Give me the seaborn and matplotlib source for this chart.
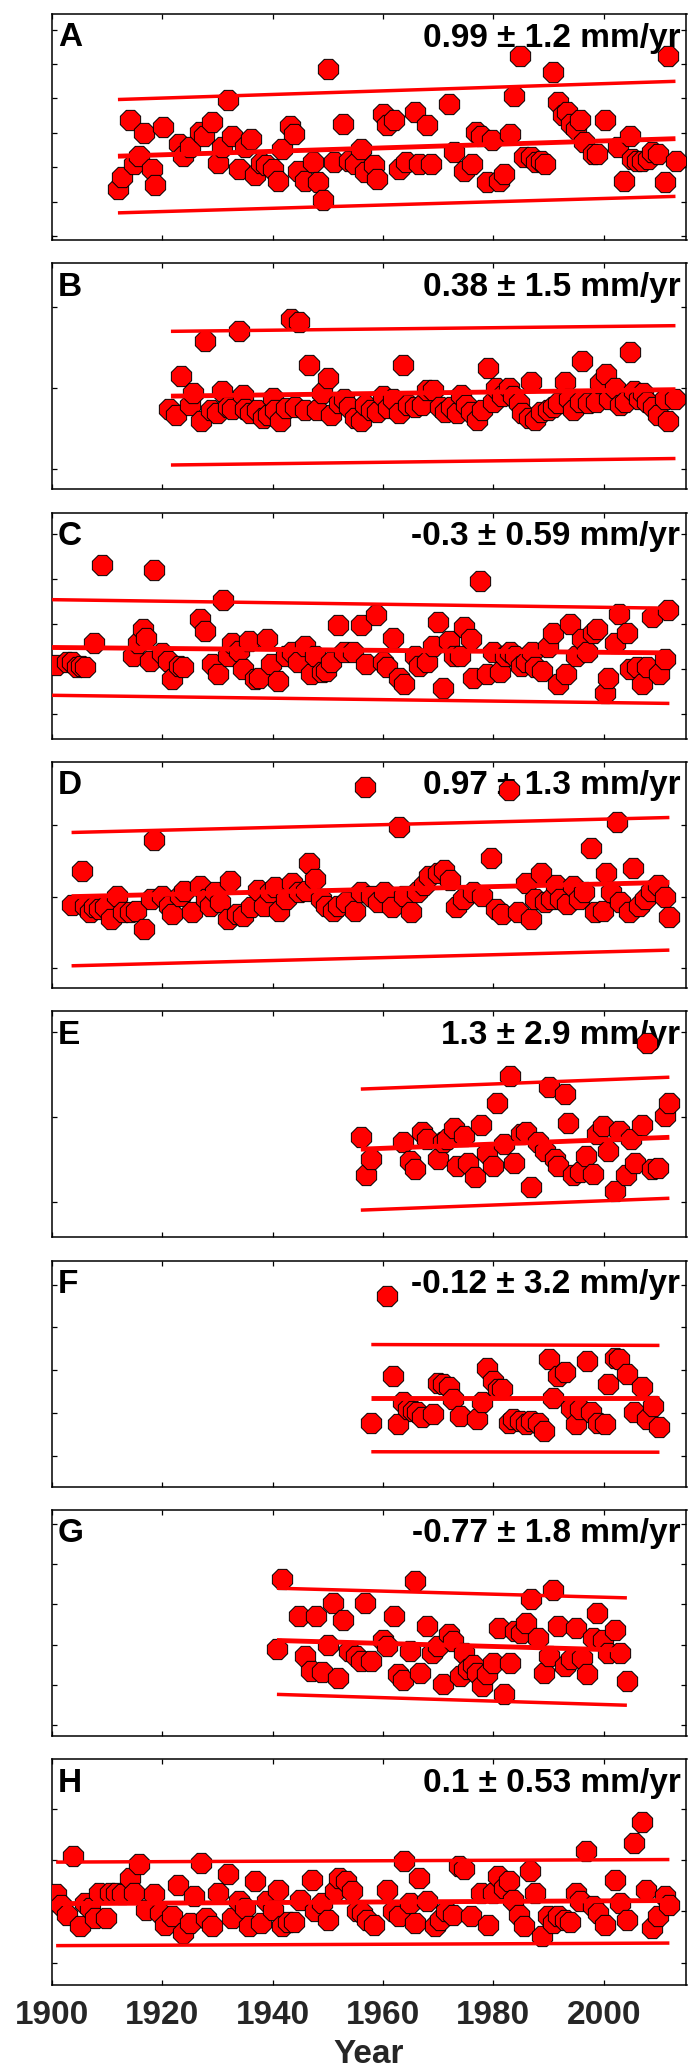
import matplotlib
matplotlib.use("Agg")
import matplotlib.pyplot as plt
import seaborn as sns
import pandas as pd

# ---------------- data ----------------
panel_labels = ["A", "B", "C", "D", "E", "F", "G", "H"]
rate_texts = ["0.99 \u00b1 1.2 mm/yr", "0.38 \u00b1 1.5 mm/yr", "-0.3 \u00b1 0.59 mm/yr",
              "0.97 \u00b1 1.3 mm/yr", "1.3 \u00b1 2.9 mm/yr", "-0.12 \u00b1 3.2 mm/yr",
              "-0.77 \u00b1 1.8 mm/yr", "0.1 \u00b1 0.53 mm/yr"]

a_year = [1912.0,1912.8,1914.1,1914.9,1915.9,1916.8,1918.2,1918.8,1920.2,1923.0,
          1923.8,1925.0,1926.8,1927.6,1929.1,1930.1,1930.9,1931.9,1932.7,1933.9,
          1935.1,1936.1,1936.9,1938.0,1938.9,1940.0,1941.0,1941.8,1943.1,1943.9,
          1944.7,1945.9,1947.3,1948.2,1949.1,1950.1,1951.1,1952.7,1953.9,1954.9,
          1956.0,1956.8,1958.4,1959.0,1960.0,1960.8,1962.0,1963.0,1964.2,1965.8,
          1966.6,1968.0,1968.7,1971.9,1972.9,1974.7,1976.1,1976.9,1977.8,1978.8,
          1979.8,1981.0,1982.0,1983.0,1983.8,1984.8,1985.6,1986.8,1987.8,1988.6,
          1989.4,1990.9,1991.7,1992.7,1993.3,1994.1,1994.9,1995.7,1996.5,1998.0,
          1998.8,2000.2,2002.6,2003.6,2004.8,2005.2,2006.1,2007.0,2008.0,2008.8,
          2009.9,2011.1,2011.7,2013.1]
a_val = [-63,-29,138,10,34,100,-5,-52,117,68,
         34,58,102,92,131,12,58,195,92,-5,
         58,83,-24,12,5,-5,-39,54,119,97,
         -10,-39,15,-44,-95,287,15,125,19,10,
         54,-15,5,-34,156,122,136,-5,15,161,
         10,122,10,183,44,-10,10,102,92,-44,
         78,-39,-19,97,206,323,29,29,15,19,
         10,277,190,151,161,126,112,136,73,39,
         39,136,60,-39,92,24,19,19,24,44,
         39,-44,323,19]

b_year = [1921.2,1922.5,1923.4,1925.0,1925.6,1927.1,1927.7,1928.8,1929.9,1930.9,
          1931.9,1932.7,1933.9,1934.7,1935.0,1935.9,1937.2,1938.2,1939.2,1940.0,
          1940.4,1941.4,1942.4,1943.4,1944.0,1944.8,1945.8,1946.7,1948.1,1948.9,
          1950.1,1950.6,1952.1,1952.9,1953.9,1954.9,1956.0,1956.8,1957.8,1959.0,
          1960.0,1961.0,1961.8,1963.0,1963.6,1964.6,1965.8,1967.0,1967.9,1969.1,
          1970.3,1971.2,1972.3,1973.5,1974.1,1975.1,1975.9,1977.0,1978.0,1979.0,
          1980.0,1980.5,1981.6,1982.8,1983.6,1984.6,1985.2,1986.4,1986.8,1987.6,
          1988.6,1989.9,1990.9,1991.7,1992.9,1993.7,1994.4,1995.7,1996.0,1997.2,
          1998.6,1999.4,2000.4,2001.0,2002.0,2003.0,2003.8,2004.8,2005.4,2006.4,
          2007.2,2007.8,2009.0,2009.9,2011.1,2011.7,2012.9]
b_val = [-26,-33,15,-21,-6,-41,58,-27,-31,-4,
         -23,-26,70,-8,-26,-31,-27,-37,-33,-12,
         -27,-41,-25,85,-23,81,-27,29,-27,-6,
         12,-33,-19,-14,-23,-37,-41,-21,-27,-29,
         -10,-25,-14,-31,29,-21,-23,-21,-2,-2,
         -23,-29,-23,-31,-8,-21,-29,-39,-27,25,
         -17,0,-10,0,-10,-19,-31,-37,8,-39,
         -29,-27,-23,-19,8,-14,-27,-17,33,-19,
         -17,6,17,-14,0,-21,-17,44,-4,-14,
         -6,-17,-23,-33,-14,-41,-14]

c_year = [1900.8,1902.7,1903.6,1904.6,1905.3,1906.1,1907.7,1909.1,1914.8,1915.6,
          1916.6,1917.0,1917.8,1918.6,1920.0,1921.0,1921.8,1923.0,1923.8,1926.9,
          1927.7,1929.1,1930.1,1931.1,1931.9,1932.7,1933.9,1934.7,1935.8,1936.9,
          1937.6,1939.0,1939.8,1941.0,1942.4,1943.6,1944.7,1945.8,1946.9,1947.7,
          1948.9,1949.7,1950.6,1951.9,1952.9,1954.5,1956.0,1956.9,1958.8,1960.0,
          1960.8,1961.8,1963.0,1963.8,1965.8,1966.6,1967.9,1969.1,1969.9,1970.9,
          1971.9,1972.9,1973.9,1974.7,1975.9,1976.3,1977.5,1978.8,1980.0,1981.2,
          1982.2,1983.0,1984.0,1985.1,1986.0,1987.0,1987.6,1988.8,1989.9,1990.9,
          1991.7,1993.1,1993.9,1994.9,1996.1,1996.9,1998.0,1998.8,2000.2,2000.7,
          2002.0,2002.8,2004.2,2004.8,2006.1,2007.0,2007.8,2008.8,2010.1,2011.1,
          2011.7]
c_val = [9,15,15,4,7,4,58,230,30,58,
         89,68,19,219,36,19,-22,7,4,111,
         85,11,-11,154,30,59,41,0,63,-22,
         -19,67,11,-26,30,37,15,52,-11,30,
         -7,-4,15,98,37,37,98,11,120,15,
         4,68,-19,-33,30,7,15,52,105,-41,
         63,30,30,93,67,-19,196,-11,37,-7,
         30,37,30,7,15,37,4,-4,48,81,
         -33,-11,100,30,67,37,81,89,-52,-19,
         59,122,81,0,4,-33,4,115,-11,22,
         130]

d_year = [1903.6,1905.4,1906.1,1906.9,1907.7,1908.6,1909.7,1910.7,1911.9,1912.9,
          1914.1,1915.3,1916.7,1918.0,1918.6,1920.0,1921.2,1921.8,1923.2,1924.0,
          1925.4,1926.9,1927.9,1928.7,1929.5,1930.5,1931.9,1932.3,1933.5,1934.7,
          1936.1,1937.4,1938.4,1939.6,1940.4,1941.2,1942.4,1943.6,1944.8,1946.0,
          1946.6,1947.7,1948.7,1949.7,1950.9,1951.9,1953.3,1954.9,1956.0,1956.8,
          1957.8,1959.2,1960.2,1961.6,1963.0,1963.8,1965.0,1966.2,1967.5,1968.4,
          1969.9,1971.1,1972.1,1973.3,1974.6,1976.3,1977.9,1979.5,1980.4,1981.6,
          1982.8,1984.4,1985.9,1986.8,1987.6,1988.6,1989.3,1990.5,1991.3,1992.1,
          1993.3,1994.4,1995.6,1996.5,1997.7,1998.4,1999.8,2000.4,2001.4,2002.4,
          2003.0,2004.6,2005.3,2006.4,2007.4,2008.6,2009.8,2011.1,2011.9]
d_val = [-12,36,-13,-22,-15,-18,-15,-32,1,-22,
         -22,-20,-45,-4,80,1,-13,-25,1,8,
         -22,15,-4,-13,6,-8,-32,22,-25,-27,
         -15,10,-13,6,13,-20,-4,19,6,8,
         47,25,-4,-13,-20,-13,-8,-20,6,154,
         1,-8,6,-15,98,1,-22,6,17,29,
         33,38,24,-15,-4,6,1,54,-18,-25,
         149,-22,19,-32,-4,33,-8,-4,17,-4,
         -11,15,-4,6,68,-22,-20,33,6,105,
         -8,-22,40,-13,-4,8,17,-1,-29]

e_year = [1956.0,1956.9,1957.9,1963.7,1964.9,1965.8,1967.0,1967.9,1969.9,1970.8,
          1971.7,1972.9,1973.5,1974.7,1975.5,1976.7,1977.8,1978.8,1980.0,1980.6,
          1982.0,1983.0,1983.8,1985.1,1985.9,1986.8,1988.1,1989.3,1990.1,1991.1,
          1991.7,1992.9,1993.5,1994.5,1995.7,1996.8,1998.0,1998.8,1999.8,2000.7,
          2002.0,2002.8,2004.0,2004.9,2005.6,2006.9,2007.8,2008.8,2009.9,2011.1,
          2011.9]
e_val = [-24,-69,-50,-30,-52,-62,-18,-26,-50,-30,
         -26,-13,-58,-22,-54,-71,-9,-42,-58,17,
         -32,48,-54,-20,-18,-83,-30,-40,36,-50,
         -58,27,-7,-69,-65,-46,-67,-20,-11,-40,
         -87,-16,-69,-26,-54,-9,87,-62,-60,1,
         17]

f_year = [1957.9,1960.8,1961.8,1962.8,1963.7,1964.6,1965.4,1966.2,1967.0,1969.1,
          1969.9,1970.8,1971.9,1972.7,1973.9,1977.0,1978.0,1978.8,1980.0,1980.8,
          1981.6,1982.8,1983.6,1984.8,1985.9,1986.8,1988.1,1989.1,1990.1,1990.9,
          1991.7,1992.9,1994.1,1994.9,1995.7,1996.9,1997.7,1999.0,2000.2,2000.7,
          2002.0,2002.8,2004.2,2005.4,2007.0,2007.8,2009.0,2010.1]
f_val = [-22,274,87,-26,25,9,5,2,-10,-2,
         71,67,60,33,-6,-14,25,106,75,56,
         56,-22,-14,-18,-26,-18,-22,-41,126,36,
         87,95,13,-26,9,122,2,-22,-26,67,
         129,126,91,2,60,-14,17,-33]

g_year = [1940.8,1941.8,1944.8,1945.8,1946.9,1947.9,1949.0,1950.1,1950.9,1951.9,
          1952.7,1953.9,1955.2,1956.0,1956.8,1957.9,1960.0,1960.8,1962.0,1962.8,
          1963.7,1964.9,1965.8,1966.8,1967.9,1968.9,1969.9,1970.8,1971.9,1972.7,
          1973.9,1974.7,1975.5,1976.3,1977.1,1978.0,1978.9,1980.0,1981.0,1982.0,
          1983.0,1984.0,1985.1,1985.9,1986.8,1988.1,1989.1,1990.1,1990.9,1991.7,
          1992.9,1994.1,1994.9,1996.1,1996.9,1998.0,1998.8,1999.8,2000.7,2002.0,
          2003.0,2004.2]
g_val = [-12,163,70,-29,-66,70,-69,0,103,-83,
         62,-17,-29,-41,103,-41,12,-4,70,-74,
         -87,-17,157,-70,45,-21,-4,-99,25,8,
         -79,-21,-62,-50,-70,-103,-74,-45,41,-124,
         -45,33,29,54,112,17,-70,-29,136,45,
         -54,-37,41,-33,-74,17,79,12,-21,37,
         -21,-91]

h_year = [1900.8,1901.6,1902.7,1903.9,1905.1,1906.1,1906.9,1907.8,1908.6,1909.9,
          1910.5,1911.7,1912.8,1914.1,1914.9,1915.9,1917.0,1918.6,1919.6,1920.6,
          1921.8,1922.9,1923.8,1925.0,1925.8,1927.1,1927.9,1929.1,1930.1,1931.9,
          1932.7,1933.9,1935.0,1935.8,1936.9,1938.0,1939.0,1940.1,1941.0,1941.8,
          1942.8,1943.9,1945.0,1947.1,1947.7,1948.9,1950.1,1951.3,1952.1,1953.3,
          1954.4,1955.3,1956.3,1957.2,1958.4,1960.8,1961.8,1963.0,1963.8,1964.9,
          1965.8,1966.6,1967.9,1969.5,1970.3,1971.5,1972.7,1973.8,1974.7,1975.9,
          1977.8,1979.0,1980.0,1980.8,1982.0,1982.8,1983.6,1984.6,1985.6,1986.7,
          1987.6,1988.9,1989.9,1990.9,1991.7,1992.9,1993.9,1994.9,1995.7,1996.8,
          1998.1,1999.0,2000.2,2002.0,2003.0,2004.2,2005.4,2007.0,2007.7,2008.8,
          2009.9,2011.1,2011.9]
h_val = [33,13,-7,107,-29,16,7,-13,36,-13,
         36,36,33,65,36,92,3,33,-3,-26,
         -10,52,-42,-23,29,95,-13,-29,36,72,
         -13,20,7,-29,59,-23,20,3,42,-29,
         -20,-20,23,62,0,16,-16,39,65,59,
         39,0,-3,-16,-26,42,0,-10,98,16,
         -22,65,20,-29,-16,0,-7,88,82,-10,
         36,-26,36,69,46,59,23,-7,-29,78,
         36,-49,-10,-23,-10,-16,-20,36,20,118,
         10,-3,-26,62,16,-16,134,175,42,-33,
         -10,29,13]

# trend lines: [start year, end year], mean fit and envelope values
trend_years = [[1912, 2013], [1921.6, 2013], [1900, 2011.9], [1903.6, 2011.9],
               [1956, 2011.9], [1957.9, 2010.1], [1940.8, 2004.2], [1900.8, 2011.9]]
trend_mid = [[32, 83], [-10, -2], [48, 36], [0, 20], [-38, -24], [36, 36], [10, -14], [15, 21]]
trend_hi = [[197, 250], [70, 77], [154, 135], [90, 111], [33, 47], [160, 158], [140, 116], [96, 101]]
trend_lo = [[-133, -85], [-95, -87], [-58, -76], [-97, -75], [-110, -96], [-90, -91], [-124, -151], [-67, -62]]

y_limits = [(-212, 446), (-125, 154), (-154, 347), (-128, 189),
            (-142, 125), (-171, 356), (-227, 335), (-144, 297)]
y_ticks = [[-200, -100, 0, 100, 200, 300, 400], [-100, 0, 100], [-100, 0, 100, 200, 300],
           [-100, 0, 100], [-100, 0, 100], [-100, 0, 100, 200, 300],
           [-200, -100, 0, 100, 200, 300], [-100, 0, 100, 200]]
x_ticks = [1900, 1920, 1940, 1960, 1980, 2000]
x_limits = (1900, 2015)

series_years = [a_year, b_year, c_year, d_year, e_year, f_year, g_year, h_year]
series_vals = [a_val, b_val, c_val, d_val, e_val, f_val, g_val, h_val]

# ---------------- figure ----------------
sns.set_theme(style="white")
plt.rcParams['font.family'] = ['Liberation Sans', 'DejaVu Sans']
plt.rcParams['font.weight'] = 'bold'

W, H = 698, 2070
fig = plt.figure(figsize=(W / 100, H / 100), dpi=100)
fig.patch.set_facecolor("white")

ax_left_px, ax_right_px = 51.7, 686.5
ax_w_px = ax_right_px - ax_left_px
panel_h_px = 226
first_top_px, pitch_px = 14, 249.3
font_pt = 24

for i in range(8):
    top = first_top_px + pitch_px * i
    ax = fig.add_axes([ax_left_px / W, 1 - (top + panel_h_px) / H,
                       ax_w_px / W, panel_h_px / H])
    ax.set_facecolor("white")
    df = pd.DataFrame({"Year": series_years[i], "Value": series_vals[i]})
    sns.scatterplot(data=df, x="Year", y="Value", ax=ax, marker="8", s=250,
                    color="#ff0000", edgecolor="black", linewidth=0.7, zorder=3,
                    legend=False)
    for vals, lw in ((trend_mid[i], 3.5), (trend_hi[i], 2.5), (trend_lo[i], 2.5)):
        tdf = pd.DataFrame({"Year": trend_years[i], "Value": vals})
        sns.lineplot(data=tdf, x="Year", y="Value", ax=ax, color="#ff0000",
                     linewidth=lw, zorder=4, legend=False, solid_capstyle="butt")
    ax.set_xlim(*x_limits)
    ax.set_ylim(*y_limits[i])
    ax.set_xticks(x_ticks)
    ax.set_yticks(y_ticks[i])
    ax.set_yticklabels([])
    ax.set_ylabel("")
    ax.tick_params(axis="both", which="both", direction="in", length=3.6, width=0.9,
                   top=True, bottom=True, left=True, right=True, color="black")
    for sp in ax.spines.values():
        sp.set_visible(True)
        sp.set_color("black")
        sp.set_linewidth(1.1)
    ax.text(6.0 / ax_w_px, 1 - 32.5 / panel_h_px, panel_labels[i], transform=ax.transAxes,
            ha="left", va="baseline", fontsize=font_pt, fontweight="bold", color="black",
            zorder=1)
    ax.text(1 - 6.0 / ax_w_px, 1 - 32.5 / panel_h_px, rate_texts[i], transform=ax.transAxes,
            ha="right", va="baseline", fontsize=font_pt, fontweight="bold", color="black",
            zorder=1)
    if i < 7:
        ax.set_xticklabels([])
        ax.set_xlabel("")
    else:
        ax.set_xticklabels([str(t) for t in x_ticks])
        ax.tick_params(axis="x", labelsize=font_pt, pad=11.0)
        for lab in ax.get_xticklabels():
            lab.set_fontweight("bold")
        ax.set_xlabel("Year", fontsize=font_pt, fontweight="bold")
        ax.xaxis.set_label_coords(0.5, -(2063 - (top + panel_h_px)) / panel_h_px)
        ax.xaxis.label.set_va("baseline")

fig.savefig("out.png", dpi=100, facecolor="white")
